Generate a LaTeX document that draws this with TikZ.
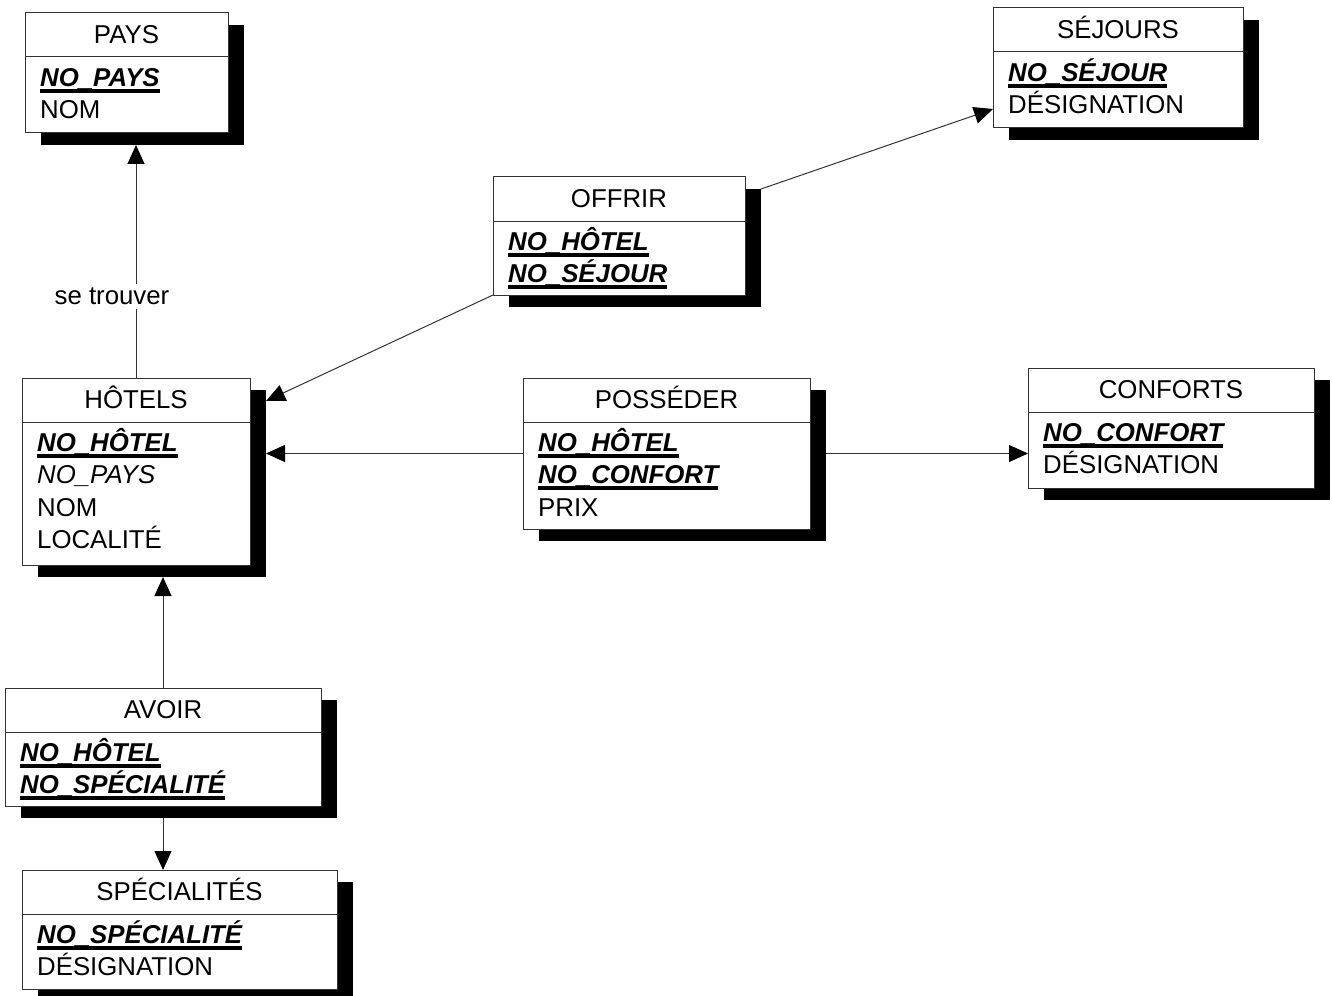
\documentclass[tikz,border=0pt]{standalone}
\usepackage{fontspec}
\setmainfont{Liberation Sans}
\usetikzlibrary{calc,arrows.meta}

% cles soulignees, cles etrangeres en italique
\newcommand{\cle}[1]{{\bfseries\itshape\setbox0\hbox{#1}\rlap{\rule[-6pt]{\wd0}{3.8pt}}\box0}}
\newcommand{\etr}[1]{{\itshape #1}}

\tikzset{
	trait/.style={draw=black!80, line width=1pt},
	table/.style={trait, fill=white, anchor=north west, inner sep=0pt, outer sep=0pt},
	ombre/.style={fill=black, anchor=north west, inner sep=0pt, outer sep=0pt},
	texte/.style={inner sep=0pt, font=\fontsize{25.8}{30}\selectfont},
	lien/.style={trait, -{Triangle[length=19pt,width=17pt,color=black]}},
}

% #1 nom, #2 x, #3 y, #4 largeur, #5 hauteur, #6 titre, #7 attributs
\newcommand{\entite}[7]{%
	\node[ombre, minimum width=#4pt, minimum height=#5pt] (#1-o) at (#2+16,#3+12) {};
	\node[table, minimum width=#4pt, minimum height=#5pt] (#1) at (#2,#3) {};
	\draw[trait] ($(#1.north west)+(0,44)$) -- ($(#1.north east)+(0,44)$);
	\node[texte, anchor=base] (#1-t) at ($(#1.north)+(0,30.5)$) {#6};
	\foreach \attr [count=\i] in {#7}
	\node[texte, anchor=base west] (#1-\i) at ($(#1.north west)+(15,41.5+32.2*\i)$) {\attr};
}

\begin{document}
\begin{tikzpicture}[x=1pt, y=-1pt]

	\useasboundingbox (0,0) rectangle (1332,995);

	% tables
	\entite{pays}{25}{13}{203}{120}{PAYS}{\cle{NO\_PAYS}, NOM}
	\entite{sejours}{993}{8}{250}{120}{SÉJOURS}{\cle{NO\_SÉJOUR}, DÉSIGNATION}
	\entite{offrir}{493}{177}{252}{118}{OFFRIR}{\cle{NO\_HÔTEL}, \cle{NO\_SÉJOUR}}
	\entite{hotels}{22}{378}{228}{187}{HÔTELS}{\cle{NO\_HÔTEL}, \etr{NO\_PAYS}, NOM, LOCALITÉ}
	\entite{posseder}{523}{378}{287}{151}{POSSÉDER}{\cle{NO\_HÔTEL}, \cle{NO\_CONFORT}, PRIX}
	\entite{conforts}{1028}{368}{286}{120}{CONFORTS}{\cle{NO\_CONFORT}, DÉSIGNATION}
	\entite{avoir}{5}{688}{316}{118}{AVOIR}{\cle{NO\_HÔTEL}, \cle{NO\_SPÉCIALITÉ}}
	\entite{specialites}{22}{870}{315}{119}{SPÉCIALITÉS}{\cle{NO\_SPÉCIALITÉ}, DÉSIGNATION}

	% liens
	\draw[lien] (hotels.north) -- (hotels.north |- pays-o.south)
		node[texte, pos=0.35, fill=white, inner sep=4pt, xshift=-24pt] (trouver) {se trouver};
	\draw[lien] (offrir.south west) -- ($(hotels-o.north east)+(0,11)$);
	\draw[lien] (offrir-o.north east) -- ($(sejours.north west)+(0,101)$);
	\draw[lien] (posseder.west) -- (posseder.west -| hotels-o.east);
	\draw[lien] (posseder.west -| posseder-o.east) -- (posseder.west -| conforts.west);
	\draw[lien] (avoir.north) -- (avoir.north |- hotels-o.south);
	\draw[lien] (avoir.north |- avoir-o.south) -- (avoir.north |- specialites.north);

\end{tikzpicture}
\end{document}
